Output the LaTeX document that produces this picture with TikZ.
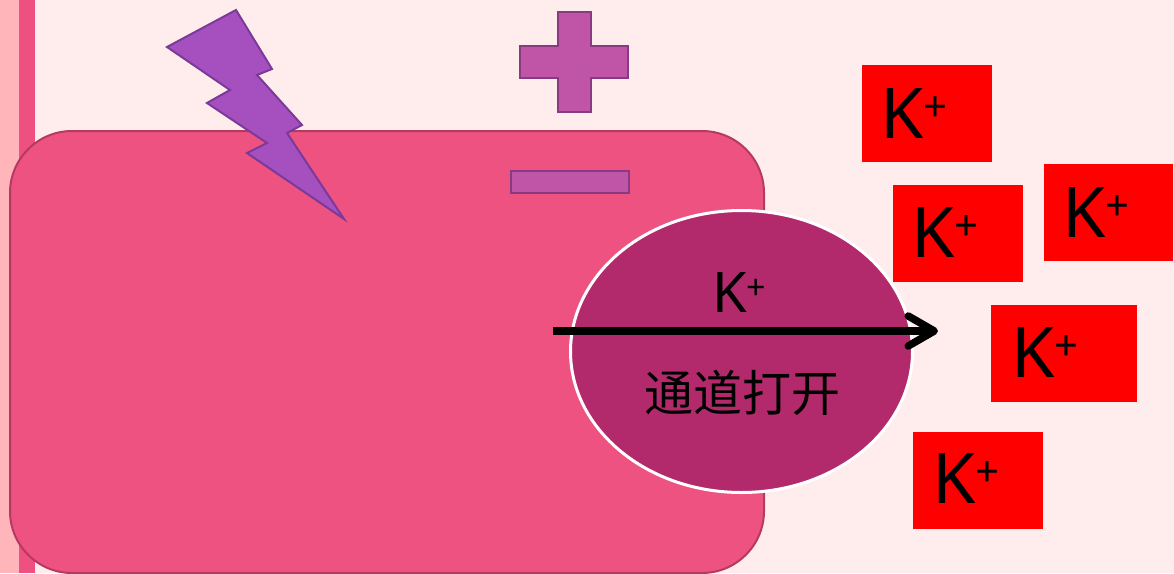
\documentclass[tikz,border=0pt]{standalone}
\usepackage{fontspec}
\usetikzlibrary{shapes.geometric,arrows.meta,calc}
\newfontfamily\latinsans{Noto Sans}
\newfontfamily\cjk{Noto Sans CJK SC}

\definecolor{paper}{HTML}{FFEDED}
\definecolor{stripelight}{HTML}{FFB5BA}
\definecolor{stripedark}{HTML}{EE5080}
\definecolor{cellfill}{HTML}{EE5280}
\definecolor{celledge}{HTML}{B53A62}
\definecolor{boltfill}{HTML}{A550BE}
\definecolor{boltedge}{HTML}{7A3A9A}
\definecolor{signfill}{HTML}{C055A8}
\definecolor{signedge}{HTML}{8A3A80}
\definecolor{chanfill}{HTML}{B22A6C}
\definecolor{ionred}{HTML}{FF0000}

% potassium ion label: big K with a raised, smaller plus
\newcommand{\kion}[2]{{\latinsans\fontsize{#1}{#1}\selectfont K\raisebox{0.23em}{\fontsize{#2}{#2}\selectfont +}}}

\tikzset{
  ionbox/.style={fill=ionred, draw=none, inner sep=0pt, anchor=north west,
    minimum width=130pt, minimum height=97pt},
  iontext/.style={inner sep=0pt, anchor=base west, text=black},
  signshape/.style={fill=signfill, draw=signedge, line width=2pt},
}

\begin{document}
\begin{tikzpicture}[x=1pt, y=-1pt]
  \useasboundingbox (0,0) rectangle (1174,573);
  % background and the two membrane stripes at the left
  \fill[paper] (0,0) rectangle (1174,573);
  \fill[stripelight] (0,0) rectangle (19,573);
  \fill[stripedark] (19,0) rectangle (35,573);

  % the cell
  \node[draw=celledge, fill=cellfill, line width=2pt, rounded corners=62pt,
        inner sep=0pt, minimum width=754pt, minimum height=442pt, anchor=north west]
        (cell) at (9,130) {};

  % stimulus bolt
  \draw[fill=boltfill, draw=boltedge, line width=2pt, line join=miter]
    (236,10) -- (167,47) -- (230,90) -- (207,103) -- (267,143) -- (247,153)
    -- (344,219) -- (287,133) -- (302,125) -- (257,75) -- (272,69) -- cycle;

  % charge signs
  \draw[signshape] (558,12) -- (591,12) -- (591,46) -- (628,46) -- (628,78)
    -- (591,78) -- (591,112) -- (558,112) -- (558,78) -- (520,78) -- (520,46)
    -- (558,46) -- cycle;
  \draw[signshape] (511,171) rectangle (629,193);

  % the open potassium channel
  \node[ellipse, draw=white, fill=chanfill, line width=3pt, inner sep=0pt,
        minimum width=342pt, minimum height=282pt] (chan) at (741.5,351.5) {};
  \node[iontext] (chanion) at (712,312) {\kion{56}{34}};
  \node[inner sep=0pt] (chanlabel) at (742,393)
        {\cjk\fontsize{49}{49}\selectfont 通道打开};

  % efflux arrow
  \coordinate (fluxstart) at (553,331);
  \coordinate (fluxend) at (938,331);
  \draw[line width=7.5pt,
        -{Straight Barb[length=26pt, width=30pt, round]}]
        (fluxstart) -- (fluxend);

  % potassium ions outside the cell
  \node[ionbox] (k1) at (862,65) {};
  \node[ionbox] (k2) at (893,185) {};
  \node[ionbox, minimum width=129pt] (k3) at (1044,164) {};
  \node[ionbox, minimum width=146pt] (k4) at (991,305) {};
  \node[ionbox] (k5) at (913,432) {};

  \node[iontext] (t1) at (880,138) {\kion{70}{42}};
  \node[iontext] (t2) at (911,257) {\kion{70}{42}};
  \node[iontext] (t3) at (1062,237) {\kion{70}{42}};
  \node[iontext] (t4) at (1011,377) {\kion{70}{42}};
  \node[iontext] (t5) at (932,503) {\kion{70}{42}};
\end{tikzpicture}
\end{document}
